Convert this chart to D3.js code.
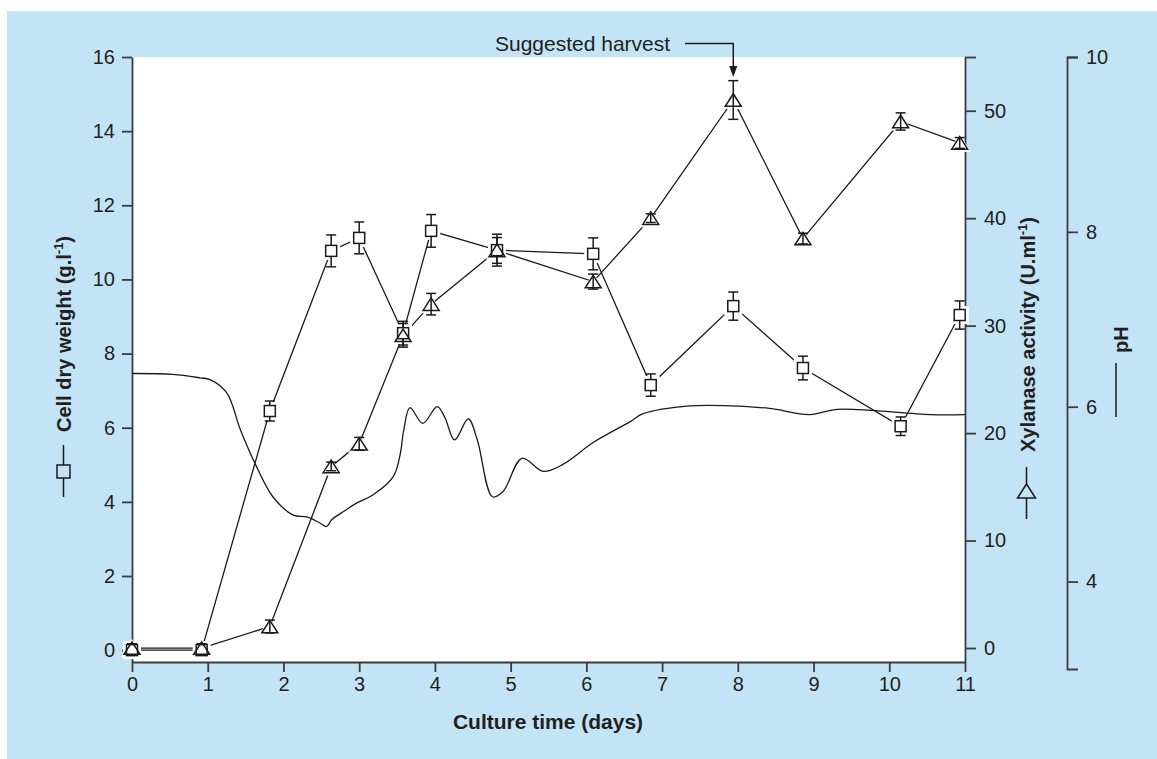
<!DOCTYPE html>
<html lang="en">
<head>
    <meta charset="UTF-8">
    <title>Cell dry weight, xylanase activity and pH</title>
    <script src="https://d3js.org/d3.v7.min.js"></script>
    <style>
        body { margin: 0; background: #fff; }
        text { font-family: "Liberation Sans", Arial, sans-serif; fill: #231f20; }
        .tick text { font-size: 20px; }
        .axis path, .axis line { stroke: #3c3c3c; stroke-width: 1.8px; }
        .title { font-size: 20px; font-weight: bold; }
        .series { fill: none; stroke: #1a1a1a; stroke-width: 1.3px; }
        .err { stroke: #1a1a1a; stroke-width: 1.5px; }
        .marker { fill: #fff; stroke: #1a1a1a; stroke-width: 1.5px; }
    </style>
</head>
<body>
<svg width="1157" height="759"></svg>
<script>
    // culture time (days) of the sampling points
    const days = [0, 0.92, 1.82, 2.63, 3.0, 3.58, 3.95, 4.82, 6.09, 6.85, 7.94, 8.86, 10.15, 10.93];
    // cell dry weight (g/l) and its error
    const dryWeight = [0, 0, 6.45, 10.77, 11.12, 8.55, 11.31, 10.79, 10.69, 7.15, 9.28, 7.61, 6.04, 9.04];
    const dryWeightErr = [0, 0, 0.27, 0.43, 0.43, 0.32, 0.44, 0.43, 0.43, 0.30, 0.38, 0.32, 0.25, 0.38];
    // xylanase activity (U/ml) and its error
    const xylanase = [0, 0, 2.0, 16.9, 19.0, 29.1, 32.0, 37.0, 34.1, 40.0, 51.0, 38.1, 49.0, 47.0];
    const xylanaseErr = [0.4, 0.4, 0.6, 0.4, 0.6, 1.1, 1.0, 1.2, 0.7, 0.4, 1.8, 0.5, 0.8, 0.5];
    // pH trace
    const phDays = [0, 0.54, 0.90, 1.03, 1.25, 1.43, 1.62, 1.86, 2.13, 2.31, 2.48, 2.57, 2.64, 2.81, 2.97, 3.18,
        3.45, 3.54, 3.59, 3.67, 3.84, 4.03, 4.13, 4.26, 4.44, 4.56, 4.76, 4.90, 5.15, 5.43, 5.69, 6.09,
        6.58, 6.75, 7.37, 7.90, 8.42, 8.95, 9.31, 10.54, 11.0];
    const phValues = [6.38, 6.37, 6.33, 6.31, 6.16, 5.74, 5.36, 4.97, 4.76, 4.74, 4.67, 4.63, 4.71, 4.81, 4.90, 4.99,
        5.20, 5.45, 5.74, 5.99, 5.81, 6.00, 5.88, 5.62, 5.86, 5.62, 4.97, 5.03, 5.41, 5.26, 5.34, 5.59,
        5.83, 5.92, 6.01, 6.01, 5.98, 5.91, 5.97, 5.91, 5.91];

    const xTicks = [0, 1, 2, 3, 4, 5, 6, 7, 8, 9, 10, 11];
    const leftTicks = [0, 2, 4, 6, 8, 10, 12, 14, 16];
    const xylTicks = [0, 10, 20, 30, 40, 50];
    const phTicks = [4, 6, 8, 10];
    const harvestIndex = 10;

    const svg = d3.select("svg");

    // background panels
    svg.append("rect").attr("x", 7).attr("y", 11).attr("width", 1150).attr("height", 748).attr("fill", "#c2e4f6");
    const plotLeft = 132, plotRight = 965, plotTop = 57, plotBottom = 662;
    svg.append("rect").attr("x", plotLeft).attr("y", plotTop)
        .attr("width", plotRight - plotLeft).attr("height", plotBottom - plotTop).attr("fill", "#fff");

    const x = d3.scaleLinear().domain([0, 11]).range([plotLeft, plotRight]);
    const yL = d3.scaleLinear().domain([-0.32, 16]).range([plotBottom, plotTop]);
    const yR = d3.scaleLinear().domain([-1.3, 55]).range([plotBottom, plotTop]);
    const yP = d3.scaleLinear().domain([3, 10]).range([669, 57]);

    // axes
    svg.append("g").attr("class", "axis")
        .attr("transform", `translate(0,${plotBottom})`)
        .call(d3.axisBottom(x).tickValues(xTicks).tickSize(10).tickSizeOuter(0).tickPadding(5)
            .tickFormat(d3.format("d")));

    svg.append("g").attr("class", "axis")
        .attr("transform", `translate(${plotLeft},0)`)
        .call(d3.axisLeft(yL).tickValues(leftTicks).tickSize(10).tickSizeOuter(0).tickPadding(7)
            .tickFormat(d3.format("d")));

    svg.append("g").attr("class", "axis")
        .attr("transform", `translate(${plotRight},0)`)
        .call(d3.axisRight(yR).tickValues(xylTicks.concat([55])).tickSize(11).tickSizeOuter(0).tickPadding(8)
            .tickFormat(d => d === 55 ? "" : d3.format("d")(d)));

    svg.append("g").attr("class", "axis")
        .attr("transform", "translate(1067,0)")
        .call(d3.axisRight(yP).tickValues(phTicks).tickSize(11).tickSizeOuter(11).tickPadding(8)
            .tickFormat(d3.format("d")));

    svg.selectAll(".axis text").attr("fill", "#231f20").style("font-family", '"Liberation Sans", Arial, sans-serif');

    // pH trace
    const phData = phDays.map((d, i) => ({ d: d, v: phValues[i] }));
    svg.append("path")
        .datum(phData)
        .attr("class", "series")
        .attr("stroke-width", 1.5)
        .attr("d", d3.line().x(p => x(p.d)).y(p => yP(p.v)).curve(d3.curveCatmullRom.alpha(0.5)));

    const sqData = days.map((d, i) => ({ d: d, v: dryWeight[i], e: dryWeightErr[i] }));
    const trData = days.map((d, i) => ({ d: d, v: xylanase[i], e: xylanaseErr[i] }));

    const line = scale => d3.line().x(p => x(p.d)).y(p => scale(p.v));
    svg.append("path").datum(sqData).attr("class", "series").attr("d", line(yL));
    svg.append("path").datum(trData).attr("class", "series").attr("d", line(yR));

    const triPath = (w, h) => `M0,${-h / 2}L${w / 2},${h / 2}L${-w / 2},${h / 2}Z`;

    // white halos so the lines stop short of the markers
    svg.append("g").selectAll("rect").data(sqData).enter().append("rect")
        .attr("x", p => x(p.d) - 9).attr("y", p => yL(p.v) - 9)
        .attr("width", 18).attr("height", 18).attr("fill", "#fff");
    svg.append("g").selectAll("path").data(trData).enter().append("path")
        .attr("transform", p => `translate(${x(p.d)},${yR(p.v)})`)
        .attr("d", triPath(22, 18)).attr("fill", "#fff");

    function errorBars(data, scale) {
        const g = svg.append("g");
        const bar = g.selectAll("g").data(data).enter().append("g");
        bar.append("line").attr("class", "err")
            .attr("x1", p => x(p.d)).attr("x2", p => x(p.d))
            .attr("y1", p => scale(p.v - p.e)).attr("y2", p => scale(p.v + p.e));
        [-1, 1].forEach(s => {
            bar.append("line").attr("class", "err")
                .attr("x1", p => x(p.d) - 5).attr("x2", p => x(p.d) + 5)
                .attr("y1", p => scale(p.v + s * p.e)).attr("y2", p => scale(p.v + s * p.e));
        });
    }
    errorBars(sqData, yL);
    errorBars(trData, yR);

    svg.append("g").selectAll("rect").data(sqData).enter().append("rect")
        .attr("class", "marker")
        .attr("x", p => x(p.d) - 5.5).attr("y", p => yL(p.v) - 5.5)
        .attr("width", 11).attr("height", 11);

    svg.append("g").selectAll("path").data(trData).enter().append("path")
        .attr("class", "marker")
        .attr("fill-opacity", 0)
        .style("fill", "none")
        .attr("transform", p => `translate(${x(p.d)},${yR(p.v)})`)
        .attr("d", triPath(16, 12.5));

    // axis titles
    svg.append("text").attr("class", "title")
        .attr("x", 548).attr("y", 729).attr("text-anchor", "middle")
        .style("font-size", "21px")
        .text("Culture time (days)");

    function rotTitle(bx, startY, label) {
        const t = svg.append("text").attr("class", "title")
            .attr("transform", `translate(${bx},${startY}) rotate(-90)`);
        t.append("tspan").text(label);
        return t;
    }
    const lt = rotTitle(71, 432, "Cell dry weight (g.l");
    lt.append("tspan").attr("dy", -8).attr("font-size", 13).text("-1");
    lt.append("tspan").attr("dy", 8).text(")");

    const rt = rotTitle(1035, 452, "Xylanase activity (U.ml");
    rt.append("tspan").attr("dy", -8).attr("font-size", 13).text("-1");
    rt.append("tspan").attr("dy", 8).text(")");

    rotTitle(1128, 353, "pH");

    // legend glyphs beside the titles
    const glyph = svg.append("g").attr("stroke", "#1a1a1a").attr("stroke-width", 1.5).attr("fill", "none");
    glyph.append("line").attr("x1", 63.5).attr("x2", 63.5).attr("y1", 445).attr("y2", 497);
    glyph.append("rect").attr("x", 57).attr("y", 465).attr("width", 13).attr("height", 13).attr("fill", "#c2e4f6");
    glyph.append("line").attr("x1", 1026.5).attr("x2", 1026.5).attr("y1", 467).attr("y2", 519);
    glyph.append("path").attr("transform", "translate(1026.5,491)").attr("d", triPath(18, 14)).attr("fill", "#c2e4f6");
    glyph.append("line").attr("x1", 1116).attr("x2", 1116).attr("y1", 363).attr("y2", 417);

    // harvest annotation
    const hx = x(days[harvestIndex]);
    svg.append("text").attr("x", 495).attr("y", 51).attr("font-size", 21).text("Suggested harvest");
    svg.append("path")
        .attr("d", `M685,43.5H${hx}V68`)
        .attr("fill", "none").attr("stroke", "#1a1a1a").attr("stroke-width", 1.5);
    svg.append("path")
        .attr("d", `M${hx - 4},66L${hx + 4},66L${hx},77Z`)
        .attr("fill", "#1a1a1a");
</script>
</body>
</html>
